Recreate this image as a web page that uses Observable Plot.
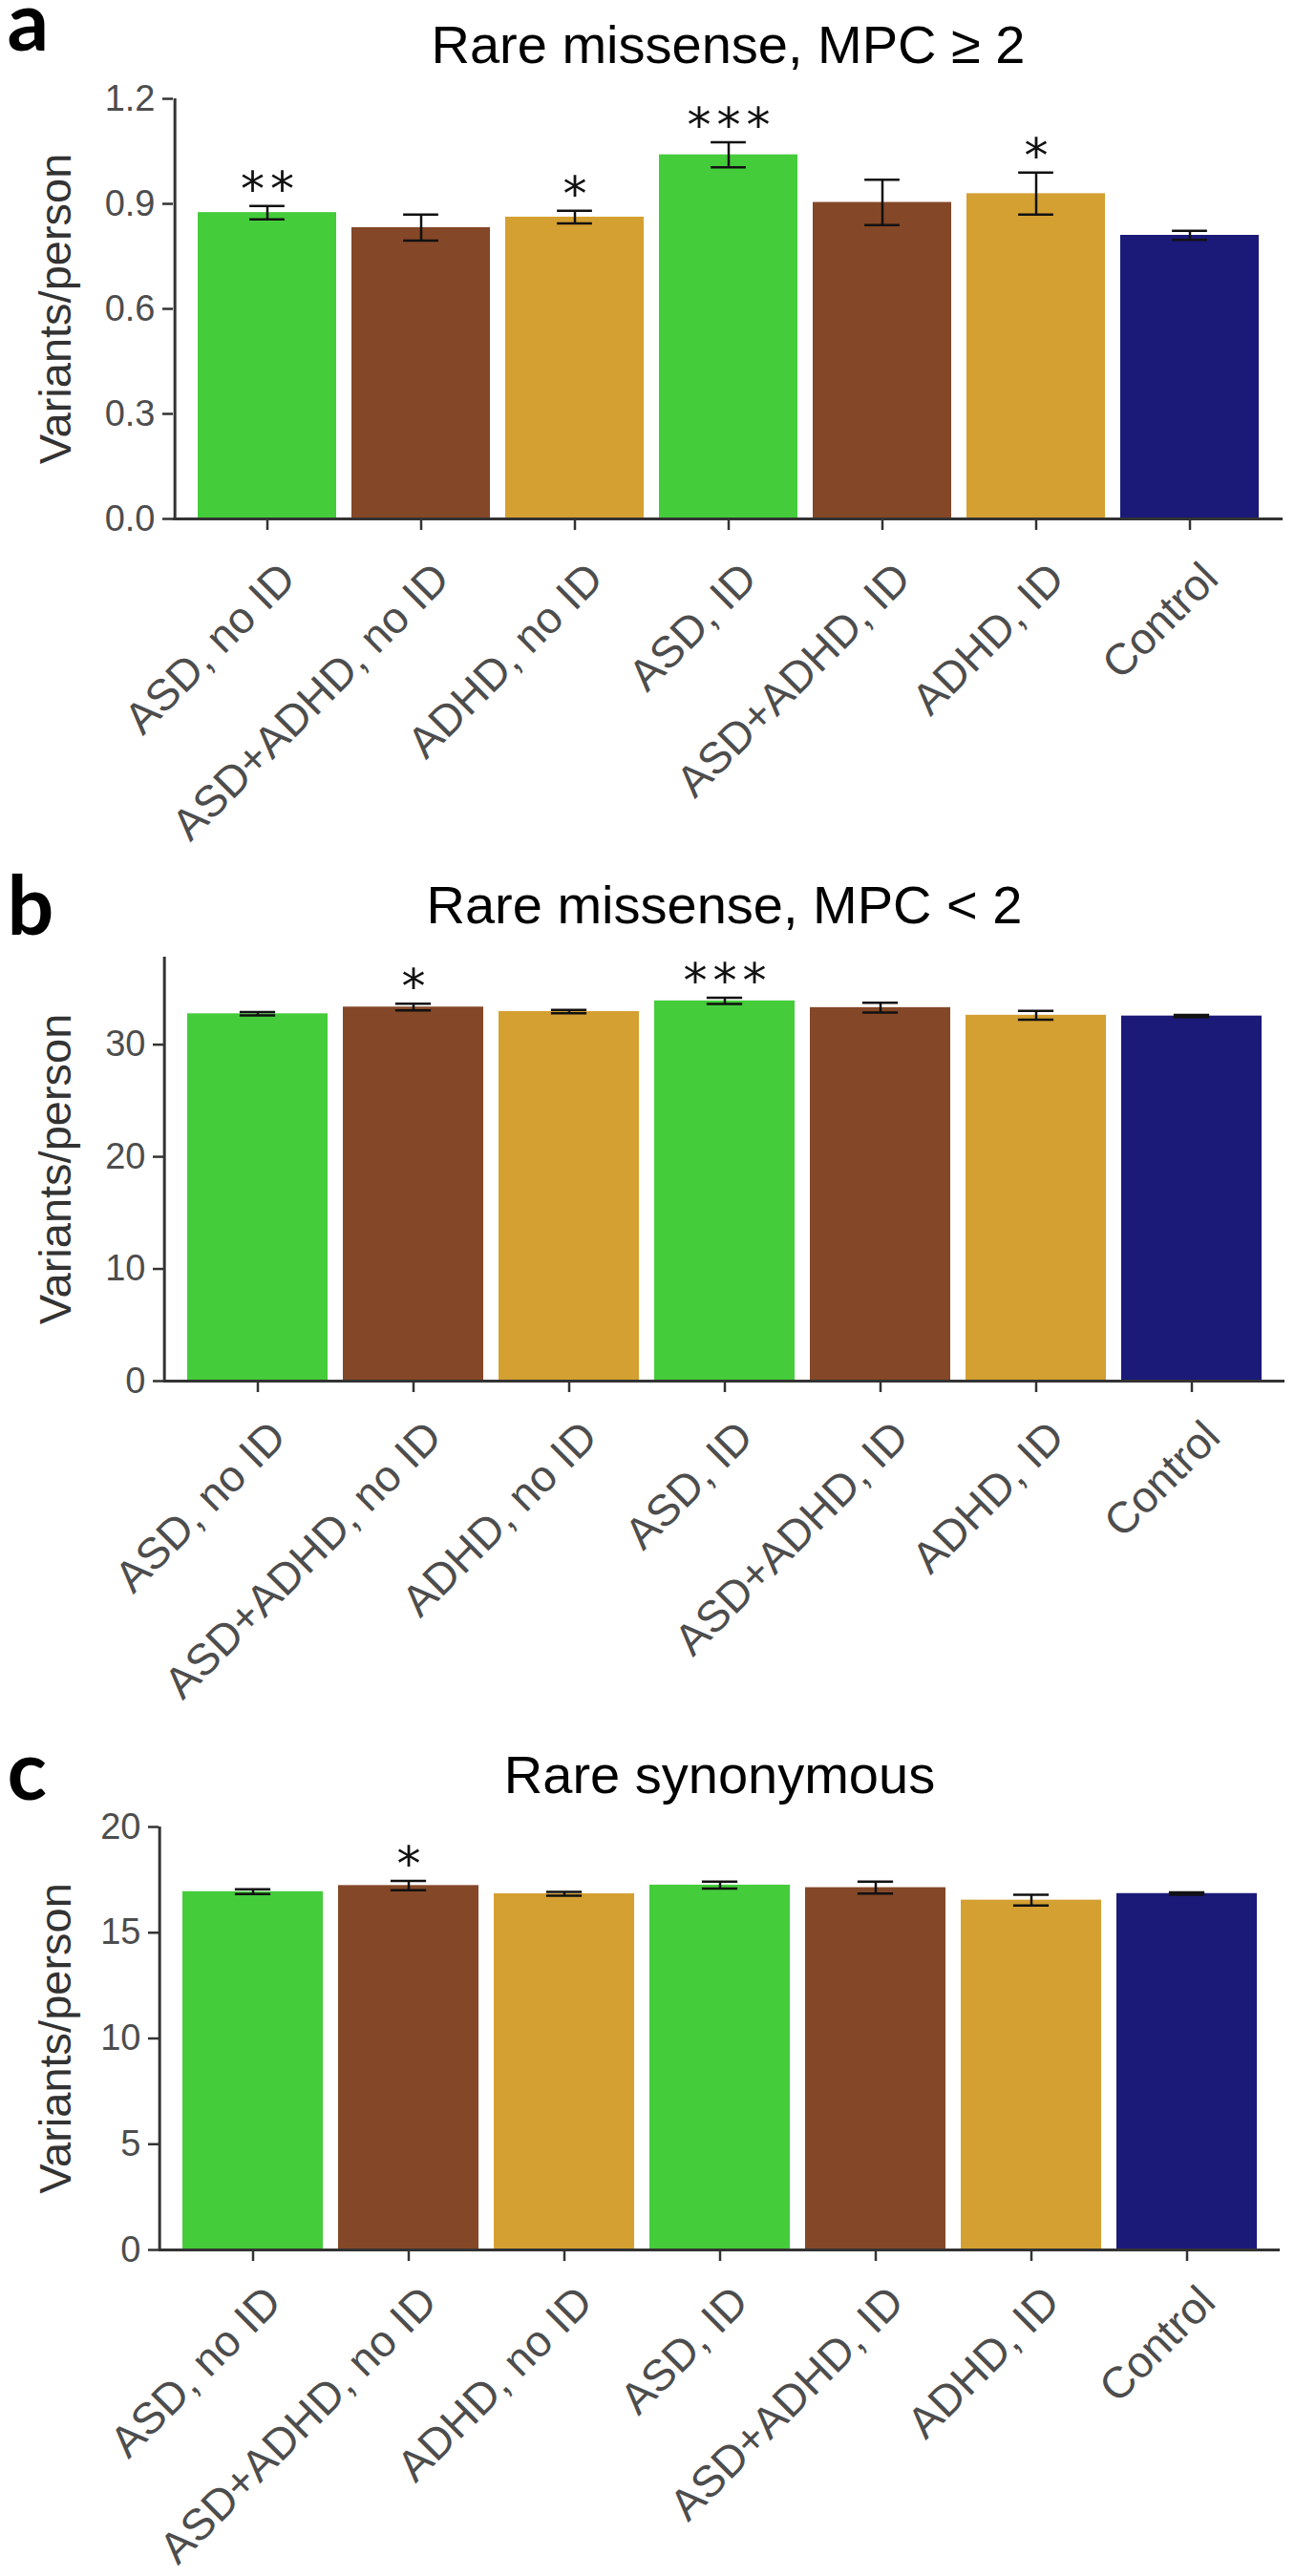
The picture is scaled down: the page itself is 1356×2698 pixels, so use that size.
<!DOCTYPE html>
<html>
<head>
<meta charset="utf-8">
<script src="https://cdn.jsdelivr.net/npm/d3@7"></script>
<script src="https://cdn.jsdelivr.net/npm/@observablehq/plot@0.6"></script>
<style>
  body { margin: 0; background: #fff; }
  svg { display: block; }
</style>
</head>
<body>
<div id="chart"></div>
<script>
// ---------- data ----------
const categories = ["ASD, no ID", "ASD+ADHD, no ID", "ADHD, no ID", "ASD, ID", "ASD+ADHD, ID", "ADHD, ID", "Control"];
const groups     = ["ASD", "ASD+ADHD", "ADHD", "ASD", "ASD+ADHD", "ADHD", "Control"];
const groupNames = ["ASD", "ASD+ADHD", "ADHD", "Control"];

const panelLetters = ["a", "b", "c"];
const panelTitles  = ["Rare missense, MPC \u2265 2", "Rare missense, MPC < 2", "Rare synonymous"];
const yAxisTitle   = "Variants/person";

const missenseHighMean  = [0.875, 0.832, 0.862, 1.040, 0.904, 0.929, 0.810];
const missenseHighErr   = [0.019, 0.037, 0.018, 0.036, 0.065, 0.060, 0.013];
const missenseHighStars = ["**", "", "*", "***", "", "*", ""];

const missenseLowMean   = [32.75, 33.35, 32.95, 33.90, 33.30, 32.62, 32.55];
const missenseLowErr    = [0.15, 0.30, 0.15, 0.28, 0.44, 0.40, 0.10];
const missenseLowStars  = ["", "*", "", "***", "", "", ""];

const synonymousMean    = [16.94, 17.23, 16.84, 17.25, 17.13, 16.54, 16.85];
const synonymousErr     = [0.11, 0.22, 0.09, 0.16, 0.28, 0.25, 0.06];
const synonymousStars   = ["", "*", "", "", "", "", ""];

const yTicksA = [0, 0.3, 0.6, 0.9, 1.2];
const yTicksB = [0, 10, 20, 30];
const yTicksC = [0, 5, 10, 15, 20];
const yMaxA = 1.2, yMaxB = 37.8, yMaxC = 20;

// ---------- styles / layout ----------
const groupColors = ["#44cc3b", "#844727", "#d4a032", "#1b1a78"];
const W = 1356;

const panels = [
  {letter: panelLetters[0], title: panelTitles[0], mean: missenseHighMean, err: missenseHighErr, stars: missenseHighStars,
   ticks: yTicksA, ymax: yMaxA, fmt: d3.format(".1f"),
   height: 880, ml: 181, mr: 13, mt: 103, mb: 337, titleY: 65, letterY: 52, labelDy: 42},
  {letter: panelLetters[1], title: panelTitles[1], mean: missenseLowMean, err: missenseLowErr, stars: missenseLowStars,
   ticks: yTicksB, ymax: yMaxB, fmt: d3.format("d"),
   height: 910, ml: 171, mr: 11, mt: 122, mb: 344, titleY: 86, letterY: 98, labelDy: 38},
  {letter: panelLetters[2], title: panelTitles[2], mean: synonymousMean, err: synonymousErr, stars: synonymousStars,
   ticks: yTicksC, ymax: yMaxC, fmt: d3.format("d"),
   height: 908, ml: 166, mr: 16, mt: 123, mb: 342, titleY: 87, letterY: 94, labelDy: 34}
];

function makePanel(p) {
  const rows = categories.map((c, i) => ({
    cat: c, group: groups[i], mean: p.mean[i],
    lo: p.mean[i] - p.err[i], hi: p.mean[i] + p.err[i], stars: p.stars[i]
  }));
  const step = (W - p.ml - p.mr) / (categories.length - 0.1 + 0.3);
  const capInset = (0.9 * step - 37) / 2;
  const axisColor = "#333";

  const svg = Plot.plot({
    width: W, height: p.height,
    marginLeft: p.ml, marginRight: p.mr, marginTop: p.mt, marginBottom: p.mb,
    style: {fontFamily: "'Liberation Sans', Arial, sans-serif", background: "#fff", overflow: "visible"},
    x: {type: "band", domain: categories, paddingInner: 0.1, paddingOuter: 0.15, align: 0.5, label: null},
    y: {domain: [0, p.ymax], label: null},
    color: {domain: groupNames, range: groupColors},
    marks: [
      Plot.barY(rows, {x: "cat", y: "mean", fill: "group"}),
      Plot.ruleX(rows, {x: "cat", y1: "lo", y2: "hi", stroke: "#111", strokeWidth: 2.5}),
      Plot.tickY(rows, {x: "cat", y: "lo", stroke: "#111", strokeWidth: 2.5, insetLeft: capInset, insetRight: capInset}),
      Plot.tickY(rows, {x: "cat", y: "hi", stroke: "#111", strokeWidth: 2.5, insetLeft: capInset, insetRight: capInset}),
      Plot.text(rows.filter(d => d.stars), {x: "cat", y: "hi", text: "stars", dy: -17, dx: 3,
        fontSize: 50, fontFamily: "'DejaVu Sans', sans-serif", lineAnchor: "middle", fill: "#111"}),
      Plot.ruleY([0], {stroke: axisColor, strokeWidth: 3}),
      Plot.ruleX([categories[0]], {x: d => d, dx: -0.6 * step, stroke: axisColor, strokeWidth: 3}),
      Plot.axisY({ticks: p.ticks, tickFormat: () => "", tickSize: 11, color: axisColor, strokeWidth: 2.5, label: null}),
      Plot.axisY({ticks: p.ticks, tickFormat: p.fmt, tickSize: 0, tickPadding: 19, fontSize: 38, color: "#4d4d4d", label: null}),
      Plot.axisX({tickSize: 12, tickFormat: () => "", color: axisColor, strokeWidth: 2.5, label: null}),
      Plot.text(categories, {x: d => d, text: d => d, frameAnchor: "bottom", rotate: -45,
        textAnchor: "end", lineAnchor: "top", dx: 9, dy: p.labelDy, fontSize: 46, fill: "#4d4d4d"}),
      Plot.text([yAxisTitle], {text: d => d, frameAnchor: "left", rotate: -90, dx: 58 - p.ml,
        lineAnchor: "middle", textAnchor: "middle", fontSize: 47, fill: "#333"}),
      Plot.text([p.title], {text: d => d, frameAnchor: "top", dy: p.titleY - p.mt,
        lineAnchor: "bottom", textAnchor: "middle", fontSize: 56, fill: "#000"}),
      Plot.text([p.letter], {text: d => d, frameAnchor: "top-left", dx: 7 - p.ml, dy: p.letterY - p.mt,
        lineAnchor: "bottom", textAnchor: "start", fontSize: 86, fontWeight: "bold",
        fontFamily: "Lato, 'Open Sans', sans-serif", fill: "#000"})
    ]
  });
  svg.querySelectorAll("text").forEach(t => {
    if (/^\*+$/.test(t.textContent)) t.style.letterSpacing = "6px";
  });
  return svg;
}

const root = document.getElementById("chart");
panels.forEach(p => root.appendChild(makePanel(p)));
</script>
</body>
</html>
